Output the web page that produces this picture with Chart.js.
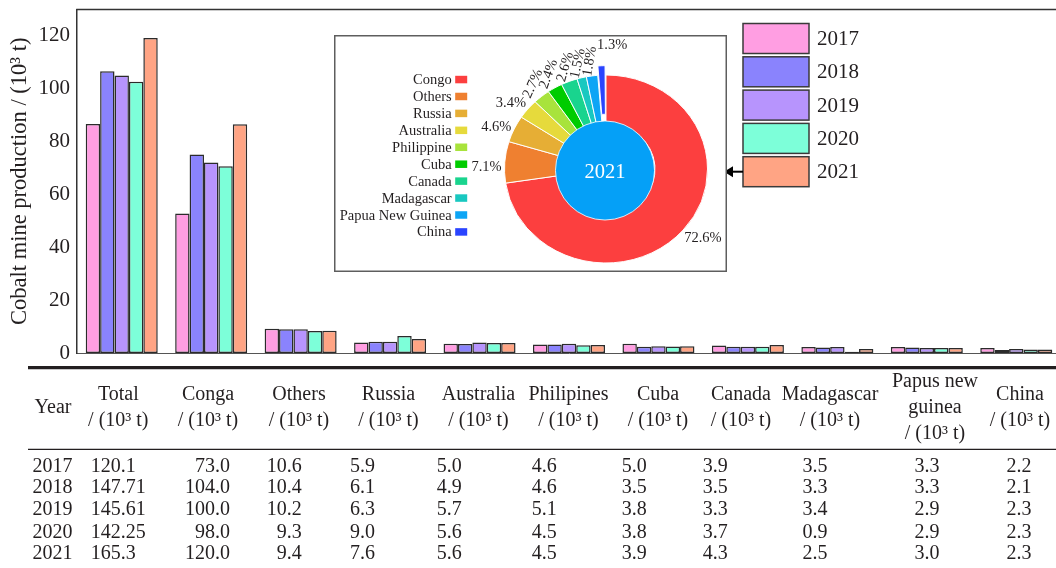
<!DOCTYPE html>
<html>
<head>
<meta charset="utf-8">
<script src="https://cdn.jsdelivr.net/npm/chart.js@4.4.1/dist/chart.umd.min.js"></script>
<style>
  html, body { margin: 0; padding: 0; background: #fff; overflow: hidden; width: 1056px; height: 568px; }
  #main { position: absolute; left: 0; top: 0; }
  #share { position: absolute; left: 334px; top: 35px; }
</style>
</head>
<body>
<canvas id="main" width="1062" height="568"></canvas>
<canvas id="share" width="393" height="237"></canvas>
<script>
// ---- bar chart data: cobalt mine production (10^3 t) ----
const categories = ['Total', 'Conga', 'Others', 'Russia', 'Australia', 'Philipines', 'Cuba', 'Canada', 'Madagascar', 'Papus new guinea', 'China'];
const years = ['2017', '2018', '2019', '2020', '2021'];
const prod2017 = [86.7, 52.8, 9.2, 4.0, 3.5, 3.2, 3.5, 2.8, 2.3, 2.3, 1.9];
const prod2018 = [106.6, 75.1, 9.0, 4.3, 3.4, 3.2, 2.4, 2.4, 2.1, 2.1, 1.1];
const prod2019 = [105.0, 72.1, 9.0, 4.3, 4.0, 3.5, 2.6, 2.4, 2.3, 1.9, 1.5];
const prod2020 = [102.7, 70.7, 8.3, 6.4, 3.8, 2.9, 2.5, 2.4, 0.5, 1.9, 1.3];
const prod2021 = [119.2, 86.6, 8.4, 5.3, 3.8, 3.0, 2.6, 3.0, 1.5, 1.9, 1.3];
const yTicks = [0, 20, 40, 60, 80, 100, 120];

// ---- 2021 share doughnut data (%) ----
const shareLabels = ['Congo', 'Others', 'Russia', 'Australia', 'Philippine', 'Cuba', 'Canada', 'Madagascar', 'Papua New Guinea', 'China'];
const share2021 = [72.6, 7.1, 4.6, 3.4, 2.7, 2.4, 2.6, 1.5, 1.8, 1.3];

// ---- table below the bars ----
const tableHeads = [
  ['Year'],
  ['Total', '/ (10³ t)'],
  ['Conga', '/ (10³ t)'],
  ['Others', '/ (10³ t)'],
  ['Russia', '/ (10³ t)'],
  ['Australia', '/ (10³ t)'],
  ['Philipines', '/ (10³ t)'],
  ['Cuba', '/ (10³ t)'],
  ['Canada', '/ (10³ t)'],
  ['Madagascar', '/ (10³ t)'],
  ['Papus new', 'guinea', '/ (10³ t)'],
  ['China', '/ (10³ t)']
];
const row2017 = ['2017', '120.1', '73.0', '10.6', '5.9', '5.0', '4.6', '5.0', '3.9', '3.5', '3.3', '2.2'];
const row2018 = ['2018', '147.71', '104.0', '10.4', '6.1', '4.9', '4.6', '3.5', '3.5', '3.3', '3.3', '2.1'];
const row2019 = ['2019', '145.61', '100.0', '10.2', '6.3', '5.7', '5.1', '3.8', '3.3', '3.4', '2.9', '2.3'];
const row2020 = ['2020', '142.25', '98.0', '9.3', '9.0', '5.6', '4.5', '3.8', '3.7', '0.9', '2.9', '2.3'];
const row2021 = ['2021', '165.3', '120.0', '9.4', '7.6', '5.6', '4.5', '3.9', '4.3', '2.5', '3.0', '2.3'];

// ---- styling ----
const SERIF = "'Liberation Serif', 'Times New Roman', serif";
const INK = '#231f20';
const yearColors = ['#ff9ee2', '#8a83fd', '#b794fd', '#7dffd9', '#ffa484'];
const shareColors = ['#fc3f3f', '#ef8030', '#e6ae35', '#e6da3c', '#a8e33c', '#00cc00', '#19d48e', '#19c8c0', '#0ea5f5', '#2a44ff'];
const shareOffsets = [0, 0, 0, 0, 0, 0, 0, 0, 0, 21];
// percentage label styling: tilt (deg), angular nudge (deg), gap beyond the ring (px)
const shareLabelTilt = [0, 0, 0, 0, -66, -70, -74, -78, -80, 0];
const shareLabelNudge = [-3, -3, -3, -3, 1, 1, 1, 0, 0, 5];
const shareLabelGap = [21, 18, 17, 17, 16, 16, 16, 16, 16, 8];
const RING_SQUASH = 0.926;

// table column placement: header centre, value anchor and alignment
const tableCols = [
  { hx: 53, dx: 52.5, align: 'center' },
  { hx: 118.3, dx: 90.7, align: 'left' },
  { hx: 208, dx: 230, align: 'right' },
  { hx: 299, dx: 301.7, align: 'right' },
  { hx: 388.5, dx: 350, align: 'left' },
  { hx: 478.5, dx: 436.7, align: 'left' },
  { hx: 568.5, dx: 531.7, align: 'left' },
  { hx: 658, dx: 621.7, align: 'left' },
  { hx: 741, dx: 702.7, align: 'left' },
  { hx: 830, dx: 815, align: 'center' },
  { hx: 935, dx: 927, align: 'center' },
  { hx: 1020, dx: 1019, align: 'center' }
];
const headLineY = { 1: [408], 2: [394.5, 421], 3: [382, 408, 434] };
const rowY = [466.5, 488, 509.5, 532.5, 554];

const series = [prod2017, prod2018, prod2019, prod2020, prod2021];
const tableRows = [row2017, row2018, row2019, row2020, row2021];

// frame top line, year key with arrow, and the data table
const frameKeyTable = {
  id: 'frameKeyTable',
  afterDraw(chart) {
    const ctx = chart.ctx;
    const a = chart.chartArea;
    ctx.save();
    // top edge of the plot frame
    ctx.strokeStyle = '#333';
    ctx.lineWidth = 1.5;
    ctx.beginPath();
    ctx.moveTo(a.left - 0.75, a.top);
    ctx.lineTo(a.right, a.top);
    ctx.stroke();

    // year key
    const kx = 743, ky = 23.5, step = 33.3, bw = 66, bh = 30;
    ctx.font = '21px ' + SERIF;
    ctx.textBaseline = 'middle';
    ctx.textAlign = 'left';
    chart.data.datasets.forEach((ds, i) => {
      const y = ky + i * step;
      ctx.fillStyle = ds.backgroundColor;
      ctx.fillRect(kx, y, bw, bh);
      ctx.strokeStyle = '#3a3a3a';
      ctx.lineWidth = 1.5;
      ctx.strokeRect(kx, y, bw, bh);
      ctx.fillStyle = INK;
      ctx.fillText(ds.label, kx + bw + 8, y + bh / 2 + 1);
    });
    // arrow from the 2021 key towards the doughnut panel
    const ay = ky + 4 * step + bh / 2;
    ctx.strokeStyle = '#000';
    ctx.lineWidth = 2;
    ctx.beginPath();
    ctx.moveTo(kx, ay);
    ctx.lineTo(731, ay);
    ctx.stroke();
    ctx.fillStyle = '#000';
    ctx.beginPath();
    ctx.moveTo(724, ay);
    ctx.lineTo(733, ay - 5.5);
    ctx.lineTo(733, ay + 5.5);
    ctx.closePath();
    ctx.fill();

    // table rules
    ctx.strokeStyle = '#231f20';
    ctx.lineWidth = 3.2;
    ctx.beginPath();
    ctx.moveTo(28, 367.7);
    ctx.lineTo(1062, 367.7);
    ctx.stroke();
    ctx.lineWidth = 1.3;
    ctx.beginPath();
    ctx.moveTo(28, 449.3);
    ctx.lineTo(1062, 449.3);
    ctx.stroke();

    // table text
    ctx.fillStyle = INK;
    ctx.font = '20px ' + SERIF;
    ctx.textBaseline = 'middle';
    tableHeads.forEach((lines, c) => {
      const ys = headLineY[lines.length];
      ctx.textAlign = 'center';
      lines.forEach((t, k) => ctx.fillText(t, tableCols[c].hx, ys[k]));
    });
    tableRows.forEach((row, r) => {
      row.forEach((t, c) => {
        ctx.textAlign = tableCols[c].align;
        ctx.fillText(t, tableCols[c].dx, rowY[r]);
      });
    });
    ctx.restore();
  }
};

new Chart(document.getElementById('main'), {
  type: 'bar',
  data: {
    labels: categories,
    datasets: years.map((y, i) => ({
      label: y,
      data: series[i],
      backgroundColor: yearColors[i],
      borderColor: '#2b2b2b',
      borderWidth: 1.5,
      borderSkipped: false,
      categoryPercentage: 0.805,
      barPercentage: 1.0
    }))
  },
  options: {
    responsive: false,
    devicePixelRatio: 1,
    animation: false,
    layout: { padding: { top: 9.5, bottom: 215, left: 0, right: 1 } },
    plugins: { legend: { display: false }, tooltip: { enabled: false } },
    scales: {
      x: {
        ticks: { display: false },
        grid: { display: false, drawTicks: false },
        border: { display: true, color: '#555', width: 1 },
        afterFit: s => { s.height = 0; s.paddingLeft = 0; s.paddingRight = 0; }
      },
      y: {
        min: 0,
        max: 130,
        afterBuildTicks: s => { s.ticks = yTicks.map(v => ({ value: v })); },
        ticks: { color: INK, font: { family: SERIF, size: 21 }, padding: 7 },
        grid: { display: false, drawTicks: false },
        border: { display: true, color: '#333', width: 1.5 },
        title: {
          display: true,
          text: 'Cobalt mine production / (10³ t)',
          color: INK,
          font: { family: SERIF, size: 22.5 },
          padding: { top: 6.5, bottom: 0 }
        },
        afterFit: s => { s.width = 77; s.paddingTop = 0; s.paddingBottom = 0; }
      }
    }
  },
  plugins: [frameKeyTable]
});

// panel frame, slightly flattened ring, centre disc, side legend and percentage labels
const ringDecor = {
  id: 'ringDecor',
  beforeDraw(chart) {
    const ctx = chart.ctx;
    ctx.save();
    ctx.fillStyle = '#fff';
    ctx.fillRect(0, 0, chart.width, chart.height);
    ctx.strokeStyle = '#5e5e5e';
    ctx.lineWidth = 1.5;
    ctx.strokeRect(0.75, 0.75, chart.width - 1.5, chart.height - 1.5);
    ctx.restore();
  },
  beforeDatasetsDraw(chart) {
    const ctx = chart.ctx;
    const el = chart.getDatasetMeta(0).data[0];
    ctx.save();
    ctx.translate(el.x, el.y);
    ctx.scale(1, RING_SQUASH);
    ctx.translate(-el.x, -el.y);
  },
  afterDatasetsDraw(chart) {
    const ctx = chart.ctx;
    ctx.restore();
    const meta = chart.getDatasetMeta(0);
    const arcs = meta.data;
    const cx = arcs[0].x, cy = arcs[0].y;
    ctx.save();
    // centre disc with the year
    ctx.fillStyle = '#05a0f7';
    ctx.beginPath();
    ctx.arc(cx - 1, cy + 1.5, arcs[0].innerRadius + 0.5, 0, Math.PI * 2);
    ctx.fill();
    ctx.strokeStyle = 'rgba(255,255,255,0.8)';
    ctx.lineWidth = 1;
    ctx.stroke();
    ctx.fillStyle = '#fff';
    ctx.font = '20.5px ' + SERIF;
    ctx.textAlign = 'center';
    ctx.textBaseline = 'middle';
    ctx.fillText('2021', cx - 1, cy + 4);

    // percentage labels around the ring
    ctx.fillStyle = INK;
    ctx.font = '14.5px ' + SERIF;
    const vals = chart.data.datasets[0].data;
    arcs.forEach((el, i) => {
      const mid = (el.startAngle + el.endAngle) / 2 + shareLabelNudge[i] * Math.PI / 180;
      const off = (el.options.offset || 0) * 1.17;
      const r = el.outerRadius + off + shareLabelGap[i];
      const px = cx + Math.cos(mid) * r;
      const py = cy + Math.sin(mid) * r * RING_SQUASH;
      const txt = vals[i].toFixed(1) + '%';
      ctx.save();
      ctx.translate(px, py);
      ctx.rotate(shareLabelTilt[i] * Math.PI / 180);
      ctx.textAlign = 'center';
      ctx.textBaseline = 'middle';
      ctx.fillText(txt, 0, 0);
      ctx.restore();
    });

    // legend on the left side of the panel
    const lx = 117.7, ly = 44.3, lstep = 16.93;
    ctx.font = '14.5px ' + SERIF;
    ctx.textBaseline = 'middle';
    chart.data.labels.forEach((lab, i) => {
      const y = ly + i * lstep;
      ctx.textAlign = 'right';
      ctx.fillStyle = INK;
      ctx.fillText(lab, lx, y + 1);
      ctx.fillStyle = chart.data.datasets[0].backgroundColor[i];
      ctx.fillRect(lx + 3.5, y - 3.5, 12, 7.5);
    });
    ctx.restore();
  }
};

new Chart(document.getElementById('share'), {
  type: 'doughnut',
  data: {
    labels: shareLabels,
    datasets: [{
      data: share2021,
      backgroundColor: shareColors,
      borderColor: '#ffffff',
      borderWidth: 1,
      offset: shareOffsets
    }]
  },
  options: {
    responsive: false,
    devicePixelRatio: 1,
    animation: false,
    radius: 101.5,
    cutout: '48.3%',
    layout: { padding: { left: 151, right: 0, top: 31, bottom: 0 } },
    plugins: { legend: { display: false }, tooltip: { enabled: false } }
  },
  plugins: [ringDecor]
});
</script>
</body>
</html>
